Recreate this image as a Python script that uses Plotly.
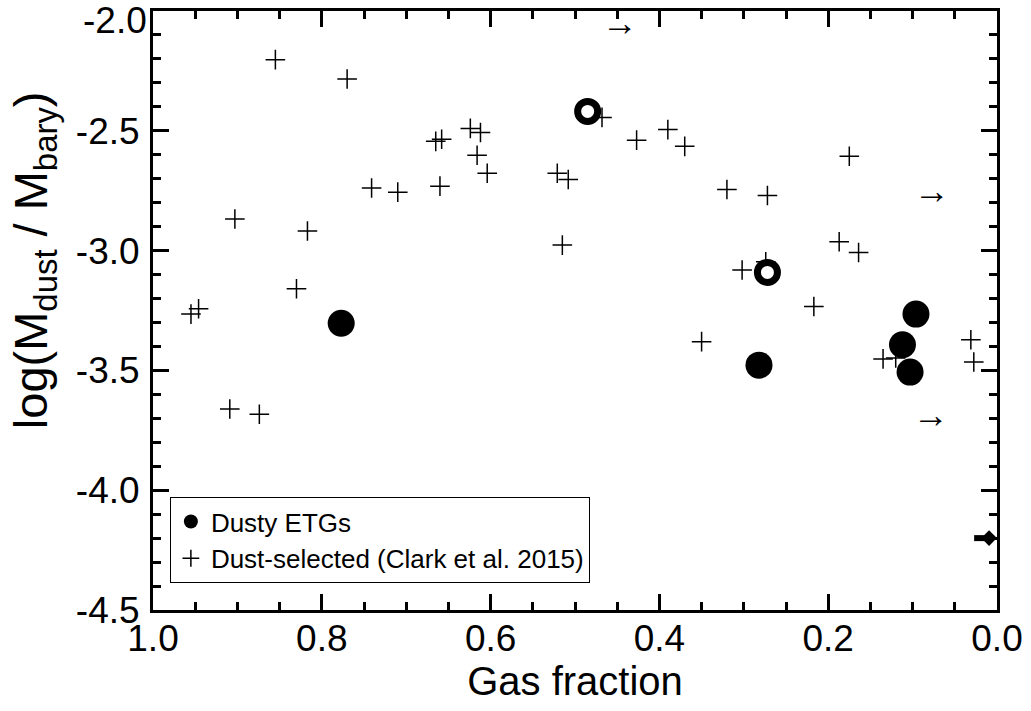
import plotly.graph_objects as go

# Dust-selected (Clark et al. 2015)
clark_x = [0.855, 0.770, 0.741, 0.710, 0.903, 0.817, 0.830, 0.955, 0.946, 0.909,
           0.874, 0.660, 0.665, 0.658, 0.624, 0.612, 0.616, 0.604, 0.521, 0.508,
           0.468, 0.427, 0.390, 0.370, 0.320, 0.272, 0.515, 0.302, 0.274, 0.217,
           0.350, 0.175, 0.187, 0.164, 0.135, 0.120, 0.031, 0.0275]
clark_y = [-2.203, -2.284, -2.739, -2.756, -2.868, -2.918, -3.159, -3.265, -3.243, -3.661,
           -3.683, -2.731, -2.544, -2.535, -2.490, -2.507, -2.602, -2.677, -2.677, -2.703,
           -2.444, -2.539, -2.495, -2.565, -2.745, -2.770, -2.977, -3.081, -3.047, -3.233,
           -3.380, -2.606, -2.963, -3.008, -3.452, -3.448, -3.372, -3.465]

# Dusty ETGs
etg_x = [0.777, 0.282, 0.096, 0.112, 0.103]
etg_y = [-3.303, -3.478, -3.265, -3.393, -3.507]

# Open-circle objects
open_x = [0.485, 0.272]
open_y = [-2.419, -3.091]

# Limits (arrows)
arrow_x = [0.447, 0.077, 0.078]
arrow_y = [-2.087, -2.785, -3.720]

# Limit diamond with bar
lim_x = [0.0094]
lim_y = [-4.20]
lim_bar = [0.0177]

x_ticks = [1.0, 0.8, 0.6, 0.4, 0.2, 0.0]
x_ticktext = ["1.0", "0.8", "0.6", "0.4", "0.2", "0.0"]
y_ticks = [-2.0, -2.5, -3.0, -3.5, -4.0, -4.5]
y_ticktext = ["-2.0", "-2.5", "-3.0", "-3.5", "-4.0", "-4.5"]

FONT = "Liberation Sans, Arial, Helvetica, sans-serif"
TICK_SIZE = 37

fig = go.Figure()

fig.add_trace(go.Scatter(
    x=clark_x, y=clark_y, mode="markers", name="Dust-selected (Clark et al. 2015)",
    marker=dict(symbol="cross-thin-open", size=14, color="black",
                line=dict(color="black", width=1.5)),
    showlegend=False,
))

fig.add_trace(go.Scatter(
    x=etg_x, y=etg_y, mode="markers", name="Dusty ETGs",
    marker=dict(symbol="circle", size=27, color="black", line=dict(width=0)),
    showlegend=False,
))

fig.add_trace(go.Scatter(
    x=open_x, y=open_y, mode="markers", showlegend=False,
    marker=dict(symbol="circle", size=20, color="white",
                line=dict(color="black", width=7)),
))

# limit arrows, placed in data coordinates
for ax_, ay_ in zip(arrow_x, arrow_y):
    fig.add_annotation(
        x=ax_, y=ay_, xref="x", yref="y", text="→", showarrow=False,
        xanchor="center", yanchor="middle", yshift=9,
        font=dict(family=FONT, size=36, color="black"),
    )

fig.add_trace(go.Scatter(
    x=lim_x, y=lim_y, mode="markers", showlegend=False,
    marker=dict(symbol="diamond", size=12, color="black"),
    error_x=dict(type="data", symmetric=False, array=lim_bar, arrayminus=[0],
                 thickness=6, width=0, color="black"),
))

# legend entries (legend-only proxies)
fig.add_trace(go.Scatter(
    x=[None], y=[None], mode="markers", name="Dusty ETGs",
    marker=dict(symbol="circle", size=14, color="black"),
))
fig.add_trace(go.Scatter(
    x=[None], y=[None], mode="markers", name="Dust-selected (Clark et al. 2015)",
    marker=dict(symbol="cross-thin-open", size=12, color="black",
                line=dict(color="black", width=1.5)),
))

axis_common = dict(
    showline=True, linecolor="black", linewidth=3, mirror="allticks",
    ticks="inside", ticklen=16, tickwidth=3, tickcolor="black",
    showgrid=False, zeroline=False,
    tickfont=dict(family=FONT, size=TICK_SIZE, color="black"),
)

fig.update_xaxes(
    range=[1.0, 0.0], tickvals=x_ticks, ticktext=x_ticktext,
    minor=dict(dtick=0.05, tick0=0, ticks="inside", ticklen=8, tickwidth=3,
               tickcolor="black", showgrid=False),
    title=dict(text="Gas fraction", font=dict(family=FONT, size=40, color="black"),
               standoff=0),
    ticklabelstandoff=-6,
    **axis_common,
)
# top label (-2.0) is drawn as an annotation, nudged down as in the original
fig.update_yaxes(
    range=[-4.5, -2.0], tickvals=y_ticks, ticktext=[""] + y_ticktext[1:],
    minor=dict(dtick=0.1, tick0=0, ticks="inside", ticklen=8, tickwidth=3,
               tickcolor="black", showgrid=False),
    ticklabelstandoff=3,
    **axis_common,
)

fig.add_annotation(
    x=0, xref="paper", y=y_ticks[0], yref="y", text=y_ticktext[0],
    showarrow=False, xanchor="right", yanchor="middle",
    xshift=-4, yshift=-9,
    font=dict(family=FONT, size=TICK_SIZE, color="black"),
)

# y-axis title
fig.add_annotation(
    x=0, xref="paper", y=0.584, yref="paper",
    text="log(M<sub>dust</sub> / M<sub>bary</sub>)", textangle=-90,
    showarrow=False, xanchor="center", yanchor="middle", xshift=-119,
    font=dict(family=FONT, size=47, color="black"),
)

fig.update_layout(
    width=1031, height=711,
    margin=dict(l=153, r=30, t=8, b=101),
    plot_bgcolor="white", paper_bgcolor="white",
    font=dict(family=FONT, color="black"),
    legend=dict(
        x=0.02, y=0.045, xanchor="left", yanchor="bottom",
        bgcolor="white", bordercolor="black", borderwidth=1,
        font=dict(family=FONT, size=26, color="black"),
        itemsizing="trace", tracegroupgap=0,
    ),
)

fig.write_html("out.html")
